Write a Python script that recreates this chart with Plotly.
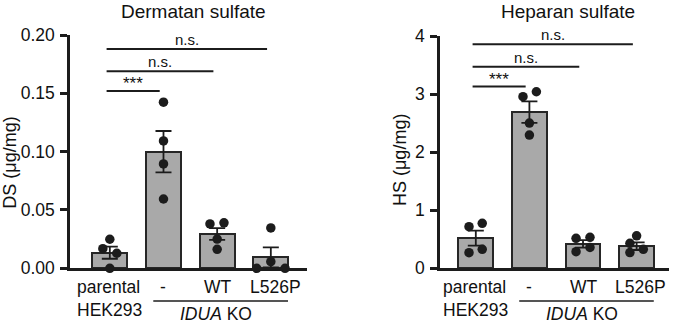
import plotly.graph_objects as go

# ---------------- data ----------------
groups = ["parental", "-", "WT", "L526P"]
group_labels = ["parental<br>HEK293", "-", "WT", "L526P"]

ds_mean = [0.0134, 0.100, 0.0294, 0.0094]
ds_sem = [0.0052, 0.0177, 0.0050, 0.0086]
ds_points = [[0.0249, 0.0168, 0.0129, 0.0],
             [0.1424, 0.1092, 0.0895, 0.0594],
             [0.038, 0.039, 0.0251, 0.0163],
             [0.0346, 0.0057, 0.0, 0.0]]
ds_jitter = [[0, -0.13, 0.13, 0],
             [0, 0, 0, 0],
             [-0.134, 0.127, 0, 0],
             [0, 0, -0.263, 0.265]]

hs_mean = [0.52, 2.69, 0.42, 0.38]
hs_sem = [0.13, 0.185, 0.065, 0.065]
hs_points = [[0.716, 0.775, 0.269, 0.327],
             [2.955, 3.04, 2.50, 2.295],
             [0.516, 0.534, 0.286, 0.36],
             [0.56, 0.43, 0.27, 0.327]]
hs_jitter = [[-0.127, 0.12, -0.127, 0.12],
             [-0.12, 0.13, 0, 0],
             [-0.13, 0.13, -0.13, 0.13],
             [0, -0.125, -0.125, 0.125]]

sig_pairs = [(0, 1), (0, 2), (0, 3)]
sig_text = ["***", "n.s.", "n.s."]
ds_sig_y = [0.152, 0.169, 0.188]
hs_sig_y = [3.13, 3.47, 3.857]

# ---------------- style ----------------
FONT = "Liberation Sans, Arial, Helvetica, sans-serif"
BAR_FILL = "#a9a9a9"
DARK = "#1c1c1c"
W, H = 675, 325

fig = go.Figure()


def add_panel(fig, xa, ya, means, sems, points, jitter, sig_y,
              yrange, dtick, tickformat, xdomain, ydomain, xrange):
    xs = list(range(len(groups)))
    fig.add_trace(go.Bar(
        x=xs, y=means, width=0.652, xaxis=xa, yaxis=ya,
        marker=dict(color=BAR_FILL, line=dict(color="#262626", width=2)),
        error_y=dict(type="data", array=sems, visible=True, symmetric=True,
                     color=DARK, thickness=1.8, width=8),
        showlegend=False, hoverinfo="skip"))
    px, py = [], []
    for i, (pts, jit) in enumerate(zip(points, jitter)):
        for v, j in zip(pts, jit):
            px.append(i + j)
            py.append(v)
    fig.add_trace(go.Scatter(
        x=px, y=py, mode="markers", xaxis=xa, yaxis=ya,
        marker=dict(color=DARK, size=9.5, line=dict(width=0)),
        cliponaxis=False, showlegend=False, hoverinfo="skip"))

    axn = xa.replace("x", "xaxis")
    ayn = ya.replace("y", "yaxis")
    fig.layout[axn] = dict(domain=xdomain, range=xrange, anchor=ya,
                           showline=True, linecolor=DARK, linewidth=2.5,
                           showticklabels=False, ticks="", showgrid=False,
                           zeroline=False, fixedrange=True, automargin=False)
    fig.layout[ayn] = dict(domain=ydomain, range=yrange, anchor=xa,
                           showline=True, linecolor=DARK, linewidth=2.5,
                           ticks="outside", ticklen=7, tickwidth=2.5,
                           tickcolor=DARK, dtick=dtick, tick0=0,
                           tickformat=tickformat, showgrid=False,
                           zeroline=False, fixedrange=True, automargin=False,
                           tickfont=dict(family=FONT, size=17.5, color="#111"),
                           ticklabelstandoff=2)

    # significance bars
    for (a, b), txt, yv in zip(sig_pairs, sig_text, sig_y):
        x0 = a - 0.06
        x1 = b - 0.07
        fig.add_shape(type="line", xref=xa, yref=ya, x0=x0, x1=x1, y0=yv, y1=yv,
                      line=dict(color=DARK, width=2))
        fig.add_annotation(xref=xa, yref=ya, x=(x0 + x1) / 2, y=yv,
                           text=txt, showarrow=False, yanchor="bottom",
                           xanchor="center",
                           yshift=-1 if txt == "n.s." else -4,
                           font=dict(family=FONT, size=15 if txt == "n.s." else 17,
                                     color="#111"))

    # category labels
    for i, lab in enumerate(group_labels):
        xpos = i + (0.08 if i == 3 else (0.02 if i == 2 else 0))
        fig.add_annotation(xref=xa, yref="paper", x=xpos, y=1 - 275 / H,
                           text=lab, showarrow=False, yanchor="top",
                           xanchor="center", align="left",
                           font=dict(family=FONT, size=17.5, color="#111"))
    # IDUA KO bracket
    fig.add_shape(type="line", xref=xa, yref="paper", x0=0.81, x1=3.32,
                  y0=1 - 301 / H, y1=1 - 301 / H,
                  line=dict(color=DARK, width=1.6))
    fig.add_annotation(xref=xa, yref="paper", x=1.98, y=1 - 314 / H,
                       text="<i>IDUA</i> KO", showarrow=False,
                       yanchor="middle", xanchor="center",
                       font=dict(family=FONT, size=17.5, color="#111"))


add_panel(fig, "x", "y", ds_mean, ds_sem, ds_points, ds_jitter, ds_sig_y,
          [0, 0.2], 0.05, ".2f",
          [70 / W, 307 / W], [1 - 268.3 / H, 1 - 35 / H], [-0.742, 3.674])
add_panel(fig, "x2", "y2", hs_mean, hs_sem, hs_points, hs_jitter, hs_sig_y,
          [0, 4], 1, "d",
          [440 / W, 669 / W], [1 - 268.3 / H, 1 - 36 / H], [-0.668, 3.604])

# titles
fig.add_annotation(xref="paper", yref="paper", x=193 / W, y=1,
                   text="Dermatan sulfate", showarrow=False, yanchor="top",
                   xanchor="center", borderpad=0,
                   font=dict(family=FONT, size=19, color="#111"))
fig.add_annotation(xref="paper", yref="paper", x=567.5 / W, y=1,
                   text="Heparan sulfate", showarrow=False, yanchor="top",
                   xanchor="center", borderpad=0,
                   font=dict(family=FONT, size=19, color="#111"))
# y-axis titles
fig.add_annotation(xref="paper", yref="paper", x=10 / W, y=1 - 162.7 / H,
                   text="DS (μg/mg)", showarrow=False, textangle=-90,
                   xanchor="center", yanchor="middle",
                   font=dict(family=FONT, size=18, color="#111"))
fig.add_annotation(xref="paper", yref="paper", x=400 / W, y=1 - 160 / H,
                   text="HS (μg/mg)", showarrow=False, textangle=-90,
                   xanchor="center", yanchor="middle",
                   font=dict(family=FONT, size=18, color="#111"))

fig.update_layout(width=W, height=H, autosize=False,
                  margin=dict(l=0, r=0, t=0, b=0, autoexpand=False),
                  paper_bgcolor="white", plot_bgcolor="white",
                  bargap=0, showlegend=False)

fig.write_html("out.html", config={"displayModeBar": False},
               post_script="document.body.style.margin='0px';"
                           "document.body.style.overflow='hidden';")
